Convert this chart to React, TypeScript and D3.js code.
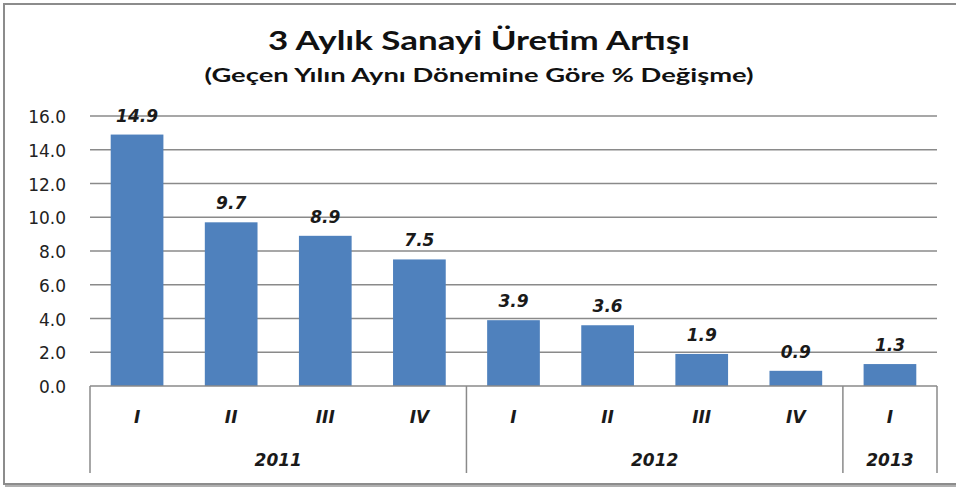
import React from "react";
import * as d3 from "d3";

const quarters = ["I", "II", "III", "IV", "I", "II", "III", "IV", "I"];
const values = [14.9, 9.7, 8.9, 7.5, 3.9, 3.6, 1.9, 0.9, 1.3];
const years = ["2011", "2012", "2013"];
const yearCounts = [4, 4, 1];
const yTicks = [0, 2, 4, 6, 8, 10, 12, 14, 16];
const title = "3 Aylık Sanayi Üretim Artışı";
const subtitle = "(Geçen Yılın Aynı Dönemine Göre % Değişme)";

export default function App() {
  const W = 956, H = 487;
  const left = 90, right = 937, top = 116, bottom = 386, boxBottom = 473;
  const idx = values.map((_, i) => i);
  const x = d3.scaleBand<number>().domain(idx).range([left, right]).paddingInner(0.44).paddingOuter(0.22);
  const step = (right - left) / values.length;
  const y = d3.scaleLinear().domain([0, 16]).range([bottom, top]);
  const grid = "#8a8a8a";
  const labelFont = "'DejaVu Sans', Verdana, sans-serif";

  let acc = 0;
  const yearGroups = years.map((yr, i) => {
    const start = acc;
    acc += yearCounts[i];
    return { yr, start, end: acc };
  });

  return (
    <svg width={W} height={H} style={{ position: "absolute", left: 0, top: 0, background: "#fff" }}>
      <rect x={0} y={0} width={W} height={H} fill="#fff" />
      {/* frame with shadow */}
      <path d={`M5,${H - 1} L${W},${H - 1}`} stroke="#b0b0b0" strokeWidth={2} />
      <path d={`M4,${W + 10} M${W + 10},4 L4,4 L4,484 L${W + 10},484`} fill="none" stroke="#8c8c8c" strokeWidth={2} />
      <text x={479} y={50} textAnchor="middle" fontFamily="Lato, 'Open Sans', sans-serif" fontWeight={700} fontSize={26} fill="#111" textLength={422} lengthAdjust="spacingAndGlyphs">{title}</text>
      <text x={479} y={82} textAnchor="middle" fontFamily="Lato, 'Open Sans', sans-serif" fontWeight={700} fontSize={19} fill="#111" textLength={549} lengthAdjust="spacingAndGlyphs">{subtitle}</text>
      {yTicks.map((t) => (
        <g key={t}>
          {t > 0 && <line x1={left} x2={right} y1={y(t)} y2={y(t)} stroke={grid} strokeWidth={1.5} />}
          <text x={66} y={y(t) + 7} textAnchor="end" fontFamily={labelFont} fontSize={17} fill="#222">{t.toFixed(1)}</text>
        </g>
      ))}
      {values.map((v, i) => (
        <g key={i}>
          <rect x={x(i)} y={y(v)} width={x.bandwidth()} height={bottom - y(v)} fill="#4F81BD" />
          <text x={(x(i) as number) + x.bandwidth() / 2} y={y(v) - 13} textAnchor="middle" fontFamily={labelFont} fontWeight={700} fontStyle="italic" fontSize={17} fill="#1a1a1a">{v.toFixed(1)}</text>
          <text x={left + step * (i + 0.5)} y={423} textAnchor="middle" fontFamily={labelFont} fontWeight={700} fontStyle="italic" fontSize={17} fill="#1a1a1a">{quarters[i]}</text>
        </g>
      ))}
      <line x1={left} x2={right} y1={bottom} y2={bottom} stroke={grid} strokeWidth={1.5} />
      {[0, ...yearGroups.map((g) => g.end)].map((k, i) => (
        <line key={i} x1={left + step * k} x2={left + step * k} y1={bottom} y2={boxBottom} stroke={grid} strokeWidth={1.5} />
      ))}
      {yearGroups.map((g) => (
        <text key={g.yr} x={left + step * (g.start + g.end) / 2} y={466} textAnchor="middle" fontFamily={labelFont} fontWeight={700} fontStyle="italic" fontSize={17} fill="#1a1a1a">{g.yr}</text>
      ))}
    </svg>
  );
}
